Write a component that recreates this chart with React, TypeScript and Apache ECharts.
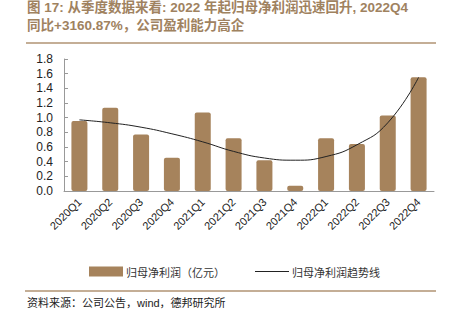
import React, { useEffect, useRef } from "react";
import * as echarts from "echarts";

const categories = ["2020Q1", "2020Q2", "2020Q3", "2020Q4", "2021Q1", "2021Q2", "2021Q3", "2021Q4", "2022Q1", "2022Q2", "2022Q3", "2022Q4"];
const profit = [0.955, 1.135, 0.77, 0.455, 1.07, 0.72, 0.42, 0.07, 0.72, 0.64, 1.03, 1.55];
const trend = [0.97, 0.93, 0.87, 0.78, 0.67, 0.54, 0.45, 0.42, 0.47, 0.63, 0.93, 1.55];
const barName = "归母净利润（亿元）";
const lineName = "归母净利润趋势线";
const titleLine1 = "图 17: 从季度数据来看: 2022 年起归母净利润迅速回升, 2022Q4";
const titleLine2 = "同比+3160.87%，公司盈利能力高企";
const sourceText = "资料来源：公司公告，wind，德邦研究所";

const FONT = "'Liberation Sans', 'Noto Sans CJK SC', sans-serif";
const BROWN = "#a6835c";

export default function App() {
  const ref = useRef<HTMLDivElement>(null);
  useEffect(() => {
    const chart = echarts.init(ref.current!, null, { renderer: "svg" });
    chart.setOption({
      animation: false,
      textStyle: { fontFamily: FONT },
      grid: { left: 64, right: 27, top: 59, bottom: 133, containLabel: false },
      legend: {
        bottom: 42,
        left: 84,
        itemGap: 30,
        itemHeight: 10,
        itemWidth: 34,
        textStyle: { fontSize: 11, color: "#333", fontFamily: "'Noto Sans CJK SC', sans-serif", padding: [0, 0, 0, -2] },
        data: [
          { name: barName, icon: "rect", itemStyle: { color: BROWN } },
          { name: lineName, icon: "path://M0,0 L28,0 L28,1 L0,1 Z", itemStyle: { color: "#222" } },
        ],
      },
      xAxis: {
        type: "category",
        data: categories,
        axisLine: { lineStyle: { color: "#999" } },
        axisTick: { inside: true, length: 4, lineStyle: { color: "#999" } },
        axisLabel: { rotate: 45, fontSize: 11, color: "#222", margin: 9, fontFamily: FONT },
      },
      yAxis: {
        type: "value",
        min: 0,
        max: 1.8,
        interval: 0.2,
        splitLine: { show: false },
        axisLine: { show: true, lineStyle: { color: "#999" } },
        axisTick: { show: true, inside: true, length: 4, lineStyle: { color: "#999" } },
        axisLabel: { fontSize: 12, color: "#222", margin: 11, formatter: (v: number) => v.toFixed(1), fontFamily: FONT },
      },
      series: [
        {
          name: barName,
          type: "bar",
          data: profit,
          barWidth: 16,
          itemStyle: { color: BROWN, borderRadius: 2 },
        },
        {
          name: lineName,
          type: "line",
          data: trend,
          smooth: true,
          symbol: "none",
          lineStyle: { color: "#222", width: 1 },
          itemStyle: { color: "#222" },
        },
      ],
      graphic: [
        {
          type: "text",
          left: 27,
          top: 1,
          style: { text: titleLine1, fontSize: 13.5, fontWeight: "bold", fill: "#a0825f", fontFamily: FONT },
        },
        {
          type: "text",
          left: 27,
          top: 19,
          style: { text: titleLine2, fontSize: 13.5, fontWeight: "bold", fill: "#a0825f", fontFamily: FONT },
        },
        {
          type: "line",
          shape: { x1: 26, y1: 43, x2: 436, y2: 43 },
          style: { stroke: "#b09373", lineWidth: 1.5 },
        },
        {
          type: "line",
          shape: { x1: 25, y1: 291, x2: 436, y2: 291 },
          style: { stroke: "#b09373", lineWidth: 1.5 },
        },
        {
          type: "text",
          left: 27,
          top: 297,
          style: { text: sourceText, fontSize: 11, fill: "#222", fontFamily: FONT },
        },
      ],
    });
    return () => chart.dispose();
  }, []);
  return <div ref={ref} style={{ width: 461, height: 324, position: "absolute", left: 0, top: 0 }} />;
}
